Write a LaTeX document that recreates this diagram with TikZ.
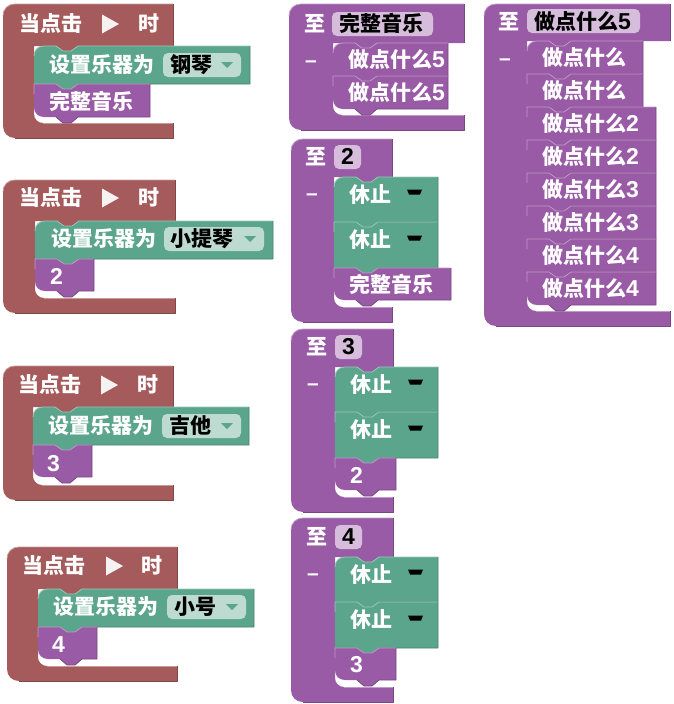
\documentclass[tikz,border=0pt]{standalone}
\usepackage{fontspec}
\setmainfont{Liberation Sans}
\newfontfamily\cjkf{Noto Sans CJK SC}
\definecolor{redb}{RGB}{165,91,91}
\definecolor{greenb}{RGB}{91,165,140}
\definecolor{purpb}{RGB}{153,91,165}
\definecolor{greenf}{RGB}{189,219,209}
\definecolor{purpf}{RGB}{214,189,219}
\newcount\txtno
\tikzset{
  blockedge/.style={line width=0.8pt,line join=round},
  lightedge/.style={blockedge,draw=#1!62!white},
  darkedge/.style={blockedge,draw=#1!78!black},
  wtext/.style={inner sep=0pt,anchor=base west,text=white,font=\fontsize{21}{24}\selectfont\cjkf\bfseries},
  ktext/.style={wtext,text=black},
  greenfield/.style={fill=greenf,draw=none,rounded corners=5pt},
  purpfield/.style={fill=purpf,draw=none,rounded corners=5pt},
}
\newcommand{\Tx}[4][wtext]{% style, x, center y, text
  \global\advance\txtno by 1
  \pgfmathsetmacro{\by}{#3+7.5}
  \node[#1] (t\the\txtno) at (#2,\by) {#4};}
\newcommand{\Lat}[1]{{\fontspec{Liberation Sans}\fontsize{23}{24}\selectfont\bfseries #1}}
% C-shaped block: colour,x0,y0,xr,yh,xi,ya,yb
\newcommand{\Cblock}[8]{%
  \pgfmathsetmacro{\aa}{#2+12}\pgfmathsetmacro{\ab}{#2+5}
  \pgfmathsetmacro{\ba}{#3+12}\pgfmathsetmacro{\bb}{#3+5}
  \pgfmathsetmacro{\ca}{#8-12}\pgfmathsetmacro{\cb}{#8-5}
  \pgfmathsetmacro{\da}{#6+9}\pgfmathsetmacro{\db}{#6+4}
  \pgfmathsetmacro{\ea}{#7-9}\pgfmathsetmacro{\eb}{#7-4}
  \pgfmathsetmacro{\nl}{#6+22}\pgfmathsetmacro{\nm}{#6+29}\pgfmathsetmacro{\nn}{#6+37}\pgfmathsetmacro{\no}{#6+44}
  \pgfmathsetmacro{\dm}{#5+5}
  \fill[#1] (#2,\ba) .. controls (#2,\bb) and (\ab,#3) .. (\aa,#3) -- (#4,#3) -- (#4,#5)
    -- (\no,#5) -- (\nn,\dm) -- (\nm,\dm) -- (\nl,#5) -- (#6,#5)
    -- (#6,\ea) .. controls (#6,\eb) and (\db,#7) .. (\da,#7) -- (#4,#7) -- (#4,#8) -- (\aa,#8)
    .. controls (\ab,#8) and (#2,\cb) .. (#2,\ca) -- cycle;
  \draw[lightedge=#1] (#2,\ba) .. controls (#2,\bb) and (\ab,#3) .. (\aa,#3) -- (#4,#3);
  \draw[lightedge=#1] (\da,#7) -- (#4,#7);
  \draw[darkedge=#1] (#4,#3) -- (#4,#5);
  \draw[darkedge=#1] (#4,#7) -- (#4,#8) -- (\aa,#8);}
% statement block: colour,x,y1,x2,y2,first(0/1),last(0/1)
\newcommand{\Stmt}[7]{%
  \pgfmathsetmacro{\nl}{#2+22}\pgfmathsetmacro{\nm}{#2+29}\pgfmathsetmacro{\nn}{#2+37}\pgfmathsetmacro{\no}{#2+44}
  \pgfmathsetmacro{\dn}{#3+5}\pgfmathsetmacro{\dm}{#5+6}
  \pgfmathsetmacro{\rx}{#2+10}\pgfmathsetmacro{\rc}{#2+4}
  \pgfmathsetmacro{\ty}{#3+10}\pgfmathsetmacro{\tc}{#3+4}\pgfmathsetmacro{\by}{#5-10}\pgfmathsetmacro{\bc}{#5-4}
  \fill[#1] (#2,\ty)
    \ifnum#6=1 .. controls (#2,\tc) and (\rc,#3) .. (\rx,#3) \else -- (#2,#3) \fi
    -- (\nl,#3) -- (\nm,\dn) -- (\nn,\dn) -- (\no,#3) -- (#4,#3) -- (#4,#5)
    -- (\no,#5) -- (\nn,\dm) -- (\nm,\dm) -- (\nl,#5)
    \ifnum#7=1 -- (\rx,#5) .. controls (\rc,#5) and (#2,\bc) .. (#2,\by) \else -- (#2,#5) \fi
    -- cycle;
  \draw[lightedge=#1] (#2,\ty)
    \ifnum#6=1 .. controls (#2,\tc) and (\rc,#3) .. (\rx,#3) \else -- (#2,#3) \fi
    -- (\nl,#3) -- (\nm,\dn) -- (\nn,\dn) -- (\no,#3) -- (#4,#3);
  \draw[darkedge=#1] (#4,#3) -- (#4,#5) -- (\no,#5) -- (\nn,\dm) -- (\nm,\dm) -- (\nl,#5);}
% run triangle: x, center y
\newcommand{\Run}[2]{%
  \pgfmathsetmacro{\tp}{#2-9.5}\pgfmathsetmacro{\bt}{#2+9.5}\pgfmathsetmacro{\tx}{#1+17}
  \fill[white,opacity=.92] (#1,\tp) -- (\tx,#2) -- (#1,\bt) -- cycle;}
% dropdown field: x1,x2,center y
\newcommand{\Drop}[3]{%
  \pgfmathsetmacro{\tp}{#3-12}\pgfmathsetmacro{\bt}{#3+12}
  \fill[greenfield] (#1,\tp) rectangle (#2,\bt);
  \pgfmathsetmacro{\ta}{#2-20}\pgfmathsetmacro{\tb}{#2-14}\pgfmathsetmacro{\tc}{#2-8}
  \pgfmathsetmacro{\ty}{#3-3}\pgfmathsetmacro{\tz}{#3+3}
  \fill[greenb] (\ta,\ty) -- (\tc,\ty) -- (\tb,\tz) -- cycle;}
\newcommand{\Namef}[3]{%
  \pgfmathsetmacro{\tp}{#3-12}\pgfmathsetmacro{\bt}{#3+12}
  \fill[purpfield] (#1,\tp) rectangle (#2,\bt);}
% rest sign: x, center y
\newcommand{\Rest}[2]{%
  \pgfmathsetmacro{\a}{#1+15}\pgfmathsetmacro{\b}{#1+2}\pgfmathsetmacro{\c}{#1+13}
  \pgfmathsetmacro{\u}{#2-2.5}\pgfmathsetmacro{\v}{#2+2.5}
  \fill[black] (#1,\u) -- (\a,\u) -- (\c,\v) -- (\b,\v) -- cycle;}
\newcommand{\Dash}[2]{\global\advance\txtno by 1
  \pgfmathsetmacro{\by}{#2+5.5}
  \node[wtext,font=\fontsize{21}{24}\selectfont\bfseries] (t\the\txtno) at (#1,\by) {–};}
\begin{document}
\begin{tikzpicture}[x=1pt,y=-1pt]
\useasboundingbox (0,0) rectangle (674,704);
% ---- event 1
\Cblock{redb}{3}{4}{173}{46}{34}{123}{138}
\Stmt{greenb}{34}{46}{250}{84}{1}{0}
\Stmt{purpb}{34}{84}{150}{117}{0}{1}
\Tx{19}{24}{当点击}\Run{102}{24}\Tx{138}{24}{时}
\Tx{49}{65}{设置乐器为}\Drop{163}{241}{65}\Tx[ktext]{170}{65}{钢琴}
\Tx{49}{102}{完整音乐}
% ---- event 2
\Cblock{redb}{3}{180}{175}{221}{35}{298}{313}
\Stmt{greenb}{35}{221}{273}{259}{1}{0}
\Stmt{purpb}{35}{259}{94}{291}{0}{1}
\Tx{19}{198}{当点击}\Run{102}{198}\Tx{138}{198}{时}
\Tx{51}{239}{设置乐器为}\Drop{164}{264}{239}\Tx[ktext]{170}{239}{小提琴}
\Tx{50}{277}{\Lat{2}}
% ---- event 3
\Cblock{redb}{3}{366}{173}{407}{33}{485}{500}
\Stmt{greenb}{33}{407}{249}{445}{1}{0}
\Stmt{purpb}{33}{445}{92}{477}{0}{1}
\Tx{18}{385}{当点击}\Run{101}{385}\Tx{137}{385}{时}
\Tx{48}{426}{设置乐器为}\Drop{162}{241}{426}\Tx[ktext]{169}{426}{吉他}
\Tx{47}{464}{\Lat{3}}
% ---- event 4
\Cblock{redb}{7}{547}{177}{589}{38}{666}{681}
\Stmt{greenb}{38}{589}{254}{627}{1}{0}
\Stmt{purpb}{38}{627}{97}{659}{0}{1}
\Tx{22}{566}{当点击}\Run{106}{566}\Tx{141}{566}{时}
\Tx{53}{607}{设置乐器为}\Drop{167}{246}{607}\Tx[ktext]{174}{607}{小号}
\Tx{52}{645}{\Lat{4}}
% ---- def 1
\Cblock{purpb}{289}{4}{464}{43}{333}{115}{130}
\Stmt{purpb}{333}{43}{448}{76}{1}{0}
\Stmt{purpb}{333}{76}{448}{109}{0}{1}
\Tx{304}{24}{至}\Namef{332}{433}{24}\Tx[ktext]{339}{24}{完整音乐}
\Dash{305}{62}
\Tx{348}{60}{做点什么\Lat{5}}\Tx{348}{93}{做点什么\Lat{5}}
% ---- def 2
\Cblock{purpb}{291}{139}{392}{177}{334}{307}{322}
\Stmt{greenb}{334}{177}{438}{222}{1}{0}
\Stmt{greenb}{334}{222}{438}{268}{0}{0}
\Stmt{purpb}{334}{268}{451}{300}{0}{1}
\Tx{305}{157}{至}\Namef{334}{361}{157}\Tx[ktext]{341}{157}{\Lat{2}}
\Dash{306}{195}
\Tx{349}{195}{休止}\Rest{407}{192}
\Tx{349}{240}{休止}\Rest{407}{238}
\Tx{349}{285}{完整音乐}
% ---- def 3
\Cblock{purpb}{291}{329}{393}{367}{335}{497}{512}
\Stmt{greenb}{335}{367}{438}{412}{1}{0}
\Stmt{greenb}{335}{412}{438}{458}{0}{0}
\Stmt{purpb}{335}{458}{396}{490}{0}{1}
\Tx{306}{347}{至}\Namef{335}{362}{347}\Tx[ktext]{342}{347}{\Lat{3}}
\Dash{307}{385}
\Tx{350}{385}{休止}\Rest{408}{382}
\Tx{350}{430}{休止}\Rest{408}{428}
\Tx{350}{476}{\Lat{2}}
% ---- def 4
\Cblock{purpb}{291}{518}{393}{557}{335}{687}{702}
\Stmt{greenb}{335}{557}{438}{602}{1}{0}
\Stmt{greenb}{335}{602}{438}{648}{0}{0}
\Stmt{purpb}{335}{648}{396}{680}{0}{1}
\Tx{306}{537}{至}\Namef{335}{362}{537}\Tx[ktext]{342}{537}{\Lat{4}}
\Dash{307}{575}
\Tx{350}{575}{休止}\Rest{408}{572}
\Tx{350}{620}{休止}\Rest{408}{618}
\Tx{350}{665}{\Lat{3}}
% ---- def 5
\Cblock{purpb}{484}{4}{670}{41}{527}{311}{326}
\Stmt{purpb}{527}{41}{643}{74}{1}{0}
\Stmt{purpb}{527}{74}{643}{107}{0}{0}
\Stmt{purpb}{527}{107}{656}{140}{0}{0}
\Stmt{purpb}{527}{140}{656}{173}{0}{0}
\Stmt{purpb}{527}{173}{656}{206}{0}{0}
\Stmt{purpb}{527}{206}{656}{239}{0}{0}
\Stmt{purpb}{527}{239}{656}{272}{0}{0}
\Stmt{purpb}{527}{272}{656}{305}{0}{1}
\Tx{498}{22}{至}\Namef{527}{640}{21}\Tx[ktext]{534}{22}{做点什么\Lat{5}}
\Dash{499}{60}
\Tx{542}{58}{做点什么}\Tx{542}{91}{做点什么}
\Tx{542}{124}{做点什么\Lat{2}}\Tx{542}{157}{做点什么\Lat{2}}
\Tx{542}{190}{做点什么\Lat{3}}\Tx{542}{223}{做点什么\Lat{3}}
\Tx{542}{256}{做点什么\Lat{4}}\Tx{542}{289}{做点什么\Lat{4}}
\end{tikzpicture}
\end{document}
